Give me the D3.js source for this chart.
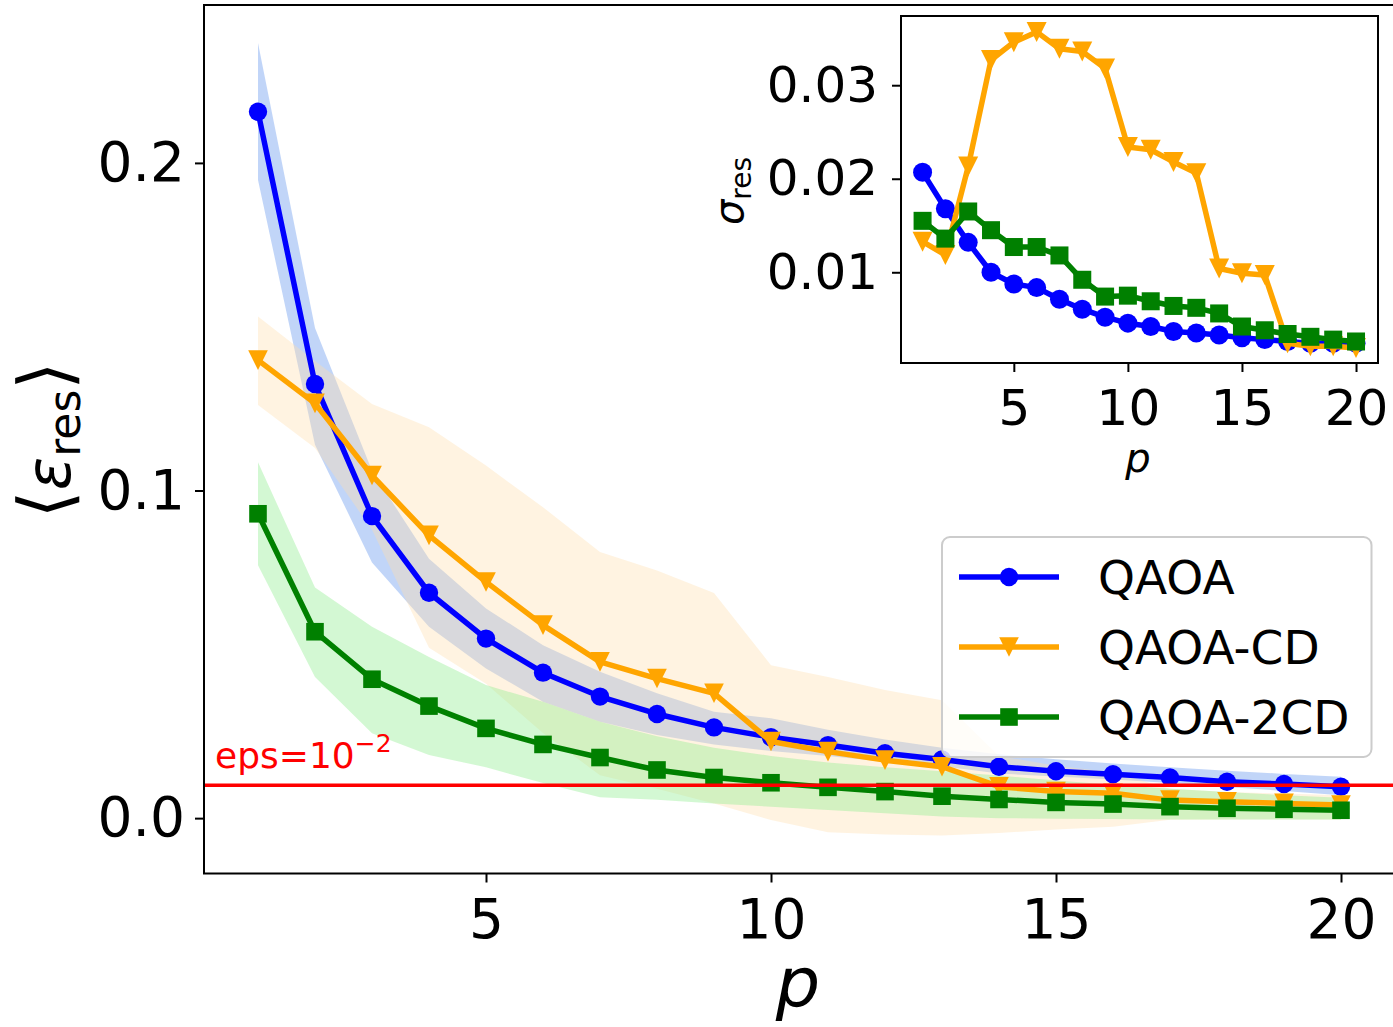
<!DOCTYPE html>
<html>
<head>
<meta charset="utf-8">
<script src="https://cdn.jsdelivr.net/npm/d3@7"></script>
<style>
  body { margin: 0; background: #fff; }
  svg { display: block; font-family: "DejaVu Sans", sans-serif; }
</style>
</head>
<body>
<svg id="chart" width="1393" height="1027"></svg>
<script>
// circuit depth
const depth = [1, 2, 3, 4, 5, 6, 7, 8, 9, 10, 11, 12, 13, 14, 15, 16, 17, 18, 19, 20];

// mean residual energy and the shaded spread around it
const qaoaMean = [0.2156, 0.1325, 0.0922, 0.0688, 0.0548, 0.0444, 0.0371, 0.0318, 0.0277, 0.0247,
                  0.0223, 0.0198, 0.0179, 0.0157, 0.0143, 0.0134, 0.0124, 0.0111, 0.0104, 0.0096];
const qaoaLo   = [0.1948, 0.1140, 0.0780, 0.0584, 0.0457, 0.0355, 0.0294, 0.0254, 0.0225, 0.0205,
                  0.0190, 0.0172, 0.0158, 0.0136, 0.0127, 0.0118, 0.0107, 0.0095, 0.0083, 0.0070];
const qaoaHi   = [0.2366, 0.1496, 0.1060, 0.0792, 0.0640, 0.0528, 0.0447, 0.0381, 0.0325, 0.0305,
                  0.0270, 0.0240, 0.0215, 0.0195, 0.0180, 0.0167, 0.0155, 0.0145, 0.0135, 0.0126];

const cdMean = [0.1398, 0.1266, 0.1046, 0.0863, 0.0721, 0.0589, 0.0477, 0.0426, 0.0381, 0.0234,
                0.0203, 0.0177, 0.0157, 0.0096, 0.0081, 0.0076, 0.0055, 0.0050, 0.0045, 0.0040];
const cdLo   = [0.1261, 0.1130, 0.0880, 0.0520, 0.0410, 0.0260, 0.0131, 0.0090, 0.0045, -0.0006,
                -0.0043, -0.0050, -0.0053, -0.0045, -0.0035, -0.0026, -0.0005, -0.0004, -0.0004, -0.0004];
const cdHi   = [0.1531, 0.1395, 0.1264, 0.1193, 0.1076, 0.0949, 0.0812, 0.0756, 0.0687, 0.0467,
                0.0431, 0.0391, 0.0360, 0.0190, 0.0160, 0.0140, 0.0090, 0.0080, 0.0075, 0.0070];

const cd2Mean = [0.0929, 0.0569, 0.0424, 0.0342, 0.0274, 0.0225, 0.0185, 0.0147, 0.0124, 0.0108,
                 0.0094, 0.0081, 0.0067, 0.0057, 0.0048, 0.0043, 0.0035, 0.0030, 0.0027, 0.0024];
const cd2Lo   = [0.0772, 0.0431, 0.0259, 0.0193, 0.0155, 0.0107, 0.0064, 0.0056, 0.0045, 0.0035,
                 0.0025, 0.0015, 0.0005, 0.0000, -0.0002, -0.0003, -0.0004, -0.0004, -0.0004, -0.0004];
const cd2Hi   = [0.1086, 0.0704, 0.0584, 0.0492, 0.0406, 0.0355, 0.0294, 0.0250, 0.0215, 0.0190,
                 0.0170, 0.0155, 0.0143, 0.0130, 0.0115, 0.0102, 0.0090, 0.0080, 0.0070, 0.0062];

// standard deviation (inset)
const qaoaSigma = [0.0207, 0.0168, 0.0132, 0.0100, 0.00875, 0.00836, 0.00712, 0.00605, 0.0052, 0.00456,
                   0.0042, 0.00367, 0.0035, 0.0033, 0.0030, 0.0028, 0.0026, 0.0024, 0.0024, 0.0024];
const cdSigma   = [0.01327, 0.01185, 0.0213, 0.0327, 0.0346, 0.0357, 0.0339, 0.0336, 0.0318, 0.0234,
                   0.0231, 0.0218, 0.0206, 0.0104, 0.0099, 0.0097, 0.0024, 0.0021, 0.0021, 0.0019];
const cd2Sigma  = [0.0155, 0.0136, 0.0165, 0.0145, 0.0127, 0.0127, 0.0118, 0.0092, 0.0074, 0.0075,
                   0.0069, 0.0064, 0.0062, 0.0056, 0.0042, 0.0038, 0.0034, 0.0031, 0.0028, 0.0026];

const labels = ['QAOA', 'QAOA-CD', 'QAOA-2CD'];
const xTicks = [5, 10, 15, 20];
const yTicks = [0.0, 0.1, 0.2];
const insetYTicks = [0.01, 0.02, 0.03];
const epsilon = 0.01;

const series = [
  { name: labels[0], mean: qaoaMean, lo: qaoaLo, hi: qaoaHi, sigma: qaoaSigma,
    color: 'blue', band: 'cornflowerblue', bandOpacity: 0.4, marker: 'circle' },
  { name: labels[1], mean: cdMean, lo: cdLo, hi: cdHi, sigma: cdSigma,
    color: 'orange', band: 'navajowhite', bandOpacity: 0.37, marker: 'tri' },
  { name: labels[2], mean: cd2Mean, lo: cd2Lo, hi: cd2Hi, sigma: cd2Sigma,
    color: 'green', band: 'lightgreen', bandOpacity: 0.4, marker: 'square' }
];

const svg = d3.select('#chart');
const font = '"DejaVu Sans", sans-serif';

function drawMarker(g, kind, cx, cy, color, size) {
  if (kind === 'circle') {
    g.append('circle').attr('cx', cx).attr('cy', cy).attr('r', size).attr('fill', color);
  } else if (kind === 'square') {
    g.append('rect').attr('x', cx - size).attr('y', cy - size)
      .attr('width', size * 2).attr('height', size * 2).attr('fill', color);
  } else {
    g.append('path')
      .attr('d', `M${cx - size},${cy - size}L${cx + size},${cy - size}L${cx},${cy + size}Z`)
      .attr('fill', color);
  }
}

const markerSize = { circle: 9.2, square: 8.8, tri: 9.8 };

// ---------- main axes ----------
const x = d3.scaleLinear().domain([0.05, 20.95]).range([203.85, 1395.15]);
const y = d3.scaleLinear().domain([-0.0169, 0.2482]).range([873.5, 5]);

const main = svg.append('g');

main.append('clipPath').attr('id', 'clipMain')
  .append('rect').attr('x', 204).attr('y', 5).attr('width', 1191).attr('height', 868.5);

const plot = main.append('g').attr('clip-path', 'url(#clipMain)');

series.forEach(s => {
  const area = d3.area()
    .x((d, i) => x(depth[i]))
    .y0((d, i) => y(s.lo[i]))
    .y1((d, i) => y(s.hi[i]));
  plot.append('path').datum(s.mean).attr('d', area)
    .attr('fill', s.band).attr('fill-opacity', s.bandOpacity);
});

series.forEach(s => {
  const line = d3.line().x((d, i) => x(depth[i])).y(d => y(d));
  plot.append('path').datum(s.mean).attr('d', line)
    .attr('fill', 'none').attr('stroke', s.color).attr('stroke-width', 5.5)
    .attr('stroke-linejoin', 'round');
  const mg = plot.append('g');
  s.mean.forEach((v, i) => drawMarker(mg, s.marker, x(depth[i]), y(v), s.color, markerSize[s.marker]));
});

// threshold line
plot.append('line')
  .attr('x1', 204).attr('x2', 1395)
  .attr('y1', y(epsilon)).attr('y2', y(epsilon))
  .attr('stroke', 'red').attr('stroke-width', 3.5);

const epsText = main.append('text')
  .attr('x', 215).attr('y', 768)
  .attr('fill', 'red').attr('font-size', 36).attr('font-family', font);
epsText.append('tspan').text('eps=10');
epsText.append('tspan').attr('font-size', 25).attr('dy', -16).text('\u22122');

// axes
const xAxis = main.append('g').attr('transform', 'translate(0,873.5)')
  .call(d3.axisBottom(x).tickValues(xTicks).tickSize(9).tickPadding(16).tickFormat(d3.format('d')));
const yAxis = main.append('g').attr('transform', 'translate(204,0)')
  .call(d3.axisLeft(y).tickValues(yTicks).tickSize(9).tickPadding(10).tickFormat(d3.format('.1f')));
[xAxis, yAxis].forEach(a => {
  a.select('.domain').remove();
  a.selectAll('line').attr('stroke', '#000').attr('stroke-width', 2);
  a.selectAll('text').attr('font-size', 55).attr('font-family', font).attr('fill', '#000');
});

main.append('rect').attr('x', 204).attr('y', 5).attr('width', 1191).attr('height', 868.5)
  .attr('fill', 'none').attr('stroke', '#000').attr('stroke-width', 2);

// axis labels
main.append('text').attr('x', 798).attr('y', 1007)
  .attr('text-anchor', 'middle').attr('font-size', 70).attr('font-style', 'italic')
  .attr('font-family', font).text('p');

const yl = main.append('text')
  .attr('transform', 'translate(70,440) rotate(-90)')
  .attr('text-anchor', 'middle').attr('font-family', font).attr('font-size', 62);
yl.append('tspan').attr('font-size', 72).text('\u27E8');
yl.append('tspan').attr('font-style', 'italic').text('\u03B5');
yl.append('tspan').attr('font-size', 44).attr('dy', 10).text('res');
yl.append('tspan').attr('font-size', 72).attr('dy', -10).text('\u27E9');

// legend
const lg = main.append('g');
lg.append('rect').attr('x', 942).attr('y', 537).attr('width', 429.5).attr('height', 220)
  .attr('rx', 8).attr('fill', '#fff').attr('fill-opacity', 0.8)
  .attr('stroke', '#cccccc').attr('stroke-width', 2);
const rowY = [577, 647, 717];
series.forEach((s, i) => {
  lg.append('line').attr('x1', 959).attr('x2', 1059).attr('y1', rowY[i]).attr('y2', rowY[i])
    .attr('stroke', s.color).attr('stroke-width', 5.5);
  drawMarker(lg, s.marker, 1009, rowY[i], s.color, markerSize[s.marker]);
  lg.append('text').attr('x', 1098).attr('y', rowY[i] + 17)
    .attr('font-size', 47).attr('font-family', font).text(s.name);
});

// ---------- inset ----------
const ix = d3.scaleLinear().domain([0.05, 20.95]).range([900.9, 1377.7]);
const iy = d3.scaleLinear().domain([0.0003, 0.0374]).range([363, 16]);

const inset = svg.append('g');
inset.append('rect').attr('x', 901).attr('y', 16).attr('width', 477).attr('height', 347)
  .attr('fill', '#fff');
inset.append('clipPath').attr('id', 'clipInset')
  .append('rect').attr('x', 901).attr('y', 16).attr('width', 477).attr('height', 347);
const iplot = inset.append('g').attr('clip-path', 'url(#clipInset)');

const insetMarker = { circle: 9.5, square: 9, tri: 10 };
series.forEach(s => {
  const line = d3.line().x((d, i) => ix(depth[i])).y(d => iy(d));
  iplot.append('path').datum(s.sigma).attr('d', line)
    .attr('fill', 'none').attr('stroke', s.color).attr('stroke-width', 5.5)
    .attr('stroke-linejoin', 'round');
  const mg = iplot.append('g');
  s.sigma.forEach((v, i) => drawMarker(mg, s.marker, ix(depth[i]), iy(v), s.color, insetMarker[s.marker]));
});

const ixAxis = inset.append('g').attr('transform', 'translate(0,363)')
  .call(d3.axisBottom(ix).tickValues(xTicks).tickSize(9).tickPadding(17).tickFormat(d3.format('d')));
const iyAxis = inset.append('g').attr('transform', 'translate(901,0)')
  .call(d3.axisLeft(iy).tickValues(insetYTicks).tickSize(9).tickPadding(14).tickFormat(d3.format('.2f')));
[ixAxis, iyAxis].forEach(a => {
  a.select('.domain').remove();
  a.selectAll('line').attr('stroke', '#000').attr('stroke-width', 2);
  a.selectAll('text').attr('font-size', 50).attr('font-family', font).attr('fill', '#000');
});

inset.append('rect').attr('x', 901).attr('y', 16).attr('width', 477).attr('height', 347)
  .attr('fill', 'none').attr('stroke', '#000').attr('stroke-width', 2);

inset.append('text').attr('x', 1138).attr('y', 472)
  .attr('text-anchor', 'middle').attr('font-size', 40).attr('font-style', 'italic')
  .attr('font-family', font).text('p');

const iyl = inset.append('text')
  .attr('transform', 'translate(743,191) rotate(-90)')
  .attr('text-anchor', 'middle').attr('font-family', font).attr('font-size', 40);
iyl.append('tspan').attr('font-style', 'italic').text('\u03C3');
iyl.append('tspan').attr('font-size', 28).attr('dy', 8).text('res');
</script>
</body>
</html>
